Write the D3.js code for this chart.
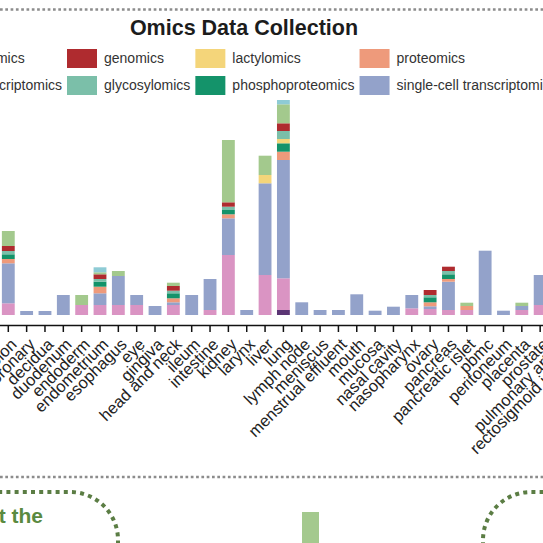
<!DOCTYPE html>
<html>
<head>
<meta charset="utf-8">
<script src="https://cdn.jsdelivr.net/npm/d3@7"></script>
<style>
  html, body { margin: 0; padding: 0; background: #fff; }
  svg { display: block; font-family: "Liberation Sans", Arial, Helvetica, sans-serif; }
</style>
</head>
<body>
<svg id="chart" width="543" height="543"></svg>
<script>
// ---------------- data ----------------
const categories = ["colon","coronary","decidua","duodenum","endoderm","endometrium","esophagus","eye",
  "gingiva","head and neck","ileum","intestine","kidney","larynx","liver","lung","lymph node","meniscus",
  "menstrual effluent","mouth","mucosa","nasal cavity","nasopharynx","ovary","pancreas","pancreatic islet",
  "pbmc","peritoneum","placenta","prostate","pulmonary artery","rectosigmoid junction"];

// series values per category (stack order bottom -> top)
const ubiquitinomics   = [0,0,0,0,0,0,0,0,0,0,0,0,0,0,0,5,0,0,0,0,0,0,0,0,0,0,0,0,0,0,0,0];
const spatialTx        = [11.7,0,0,0,10,10,10,10,0,10,0,5,60,0,40,31.7,0,0,0,0,0,0,6.7,6,5,5,0,0,5,10,0,0];
const singleCellTx     = [40,4,4,20,0,11.7,29,10,9,2.7,20,31,36.7,5,91.7,118.3,12.7,5,5,20.7,4.3,8.3,13.3,2.7,28.3,0,64.3,4.3,4,30,10,5];
const proteomics       = [4.3,0,0,0,0,6.6,0,0,0,4,0,0,4,0,0,8.3,0,0,0,0,0,0,0,4,2.7,4,0,0,0,0,0,0];
const phosphoproteomics= [4.7,0,0,0,0,5,0,0,0,5,0,0,4.3,0,0,8.4,0,0,0,0,0,0,0,5,4.7,0,0,0,0,0,0,0];
const lactylomics      = [0,0,0,0,0,0,0,0,0,0,0,0,0,0,8.3,4.3,0,0,0,0,0,0,0,0,0,0,0,0,0,0,0,0];
const glycosylomics    = [3.3,0,0,0,0,2.7,0,0,0,2.6,0,0,3.3,0,0,8,0,0,0,0,0,0,0,2.3,3.3,0,0,0,0,0,0,0];
const genomics         = [5,0,0,0,0,4.7,0,0,0,4.7,0,0,4.4,0,0,7.7,0,0,0,0,0,0,0,5,4.3,0,0,0,0,0,0,0];
const bulkTx           = [15,0,0,0,10,2,5,0,0,3.3,0,0,62.3,0,19.3,19,0,0,0,0,0,0,0,0,0,3.3,0,0,3.3,0,0,0];
const metabolomics     = [0,0,0,0,0,5,0,0,0,0,0,0,0,0,0,4.3,0,0,0,0,0,0,0,0,0,0,0,0,0,0,0,0];

const seriesNames = ["ubiquitinomics","spatial transcriptomics","single-cell transcriptomics","proteomics",
  "phosphoproteomics","lactylomics","glycosylomics","genomics","bulk transcriptomics","metabolomics"];
const seriesValues = [ubiquitinomics, spatialTx, singleCellTx, proteomics, phosphoproteomics,
  lactylomics, glycosylomics, genomics, bulkTx, metabolomics];
const seriesColors = ["#5b3574","#da94c3","#93a2ca","#ee9a7b","#14936a","#f4d57a","#7bbfa9","#af2b2f","#a3c98d","#8ecbd5"];

// legend order (column-major, 2 rows)
const legendOrder = ["metabolomics","bulk transcriptomics","genomics","glycosylomics","lactylomics",
  "phosphoproteomics","proteomics","single-cell transcriptomics","spatial transcriptomics","ubiquitinomics"];

const titleText = "Omics Data Collection";

// partially visible element of the panel below
const lowerPanelCats = ["a"];
const lowerPanelValues = [88];

// ---------------- drawing ----------------
const svg = d3.select("#chart");
const W = 543, H = 543;

// dotted separators
const greyDots = [9.5, 477];
svg.selectAll("line.sep").data(greyDots).join("line")
  .attr("class","sep")
  .attr("x1",0).attr("x2",W).attr("y1",d=>d).attr("y2",d=>d)
  .attr("stroke","#8c8c8c").attr("stroke-width",2.6).attr("stroke-dasharray","2.7 2.6");

// title
svg.append("text").attr("x",244).attr("y",35).attr("text-anchor","middle")
  .attr("font-size",21.5).attr("font-weight","bold").attr("fill","#1c1c1c").text(titleText);

// legend
const colorOf = Object.fromEntries(seriesNames.map((n,i)=>[n, seriesColors[i]]));
const legendFont = 14;
const measure = svg.append("text").attr("font-size",legendFont).attr("visibility","hidden");
const widthOf = t => { measure.text(t); return measure.node().getComputedTextLength(); };
const nCols = Math.ceil(legendOrder.length/2);
const colW = d3.range(nCols).map(c => d3.max(legendOrder.slice(c*2, c*2+2), widthOf));
measure.remove();
const swW = 30, swH = 19, swGap = 7, colGap = 5;
const colX = new Array(nCols);
colX[1] = 67;
colX[0] = colX[1] - (swW + swGap + colW[0] + colGap);
for (let c = 2; c < nCols; c++) colX[c] = colX[c-1] + swW + swGap + colW[c-1] + colGap;
const rowY = [49, 76];
const lg = svg.append("g");
legendOrder.forEach((name,i) => {
  const c = Math.floor(i/2), r = i%2;
  lg.append("rect").attr("x",colX[c]).attr("y",rowY[r]).attr("width",swW).attr("height",swH)
    .attr("fill",colorOf[name]);
  lg.append("text").attr("x",colX[c]+swW+swGap).attr("y",rowY[r]+swH/2).attr("dy","0.35em")
    .attr("font-size",legendFont).attr("fill","#333").text(name);
});

// scales
const step = 18.34, firstCenter = 8.3;
const x = d3.scaleBand().domain(categories)
  .range([firstCenter - step/2, firstCenter - step/2 + step*categories.length])
  .paddingInner(0.3).paddingOuter(0.15);
const y = d3.scaleLinear().domain([0, 215]).range([315, 100]);

const table = categories.map((c,i) => {
  const o = {category:c};
  seriesNames.forEach((n,k) => o[n] = seriesValues[k][i]);
  return o;
});
const stacked = d3.stack().keys(seriesNames)(table);

svg.append("g").selectAll("g").data(stacked).join("g")
  .attr("fill", (d,i) => seriesColors[i])
  .selectAll("rect").data(d => d.filter(p => p[1] - p[0] > 0)).join("rect")
  .attr("x", d => x(d.data.category))
  .attr("width", x.bandwidth())
  .attr("y", d => y(d[1]))
  .attr("height", d => y(d[0]) - y(d[1]));

// x axis
const axis = svg.append("g").attr("transform","translate(0,325)")
  .call(d3.axisBottom(x).tickSize(7).tickSizeOuter(0));
axis.select(".domain").attr("stroke","#111").attr("stroke-width",1.3);
axis.selectAll(".tick line").attr("stroke","#111").attr("stroke-width",1.5);
axis.selectAll(".tick text")
  .attr("x",0).attr("y",0).attr("dy","0.72em")
  .attr("text-anchor","end")
  .attr("transform","translate(1,12) rotate(-45)")
  .attr("font-size",16.5).attr("fill","#222")
  .attr("font-family","'Liberation Sans', Arial, sans-serif");

// panel below (partially visible)
const green = "#5b7d44";
svg.append("path").attr("d","M -10 492 H 70 A 48 48 0 0 1 118 540 V 580")
  .attr("fill","none").attr("stroke",green).attr("stroke-width",4).attr("stroke-dasharray","4 4.2");
svg.append("path").attr("d","M 560 492 H 531 A 48 48 0 0 0 483 540 V 580")
  .attr("fill","none").attr("stroke",green).attr("stroke-width",4).attr("stroke-dasharray","4 4.2");
svg.append("text").attr("x",43).attr("y",523).attr("text-anchor","end")
  .attr("font-size",21).attr("font-weight","bold").attr("fill","#5a8a40").text("What about the");

const xl = d3.scaleBand().domain(lowerPanelCats).range([302,319]);
const yl = d3.scaleLinear().domain([0,100]).range([600,500]);
svg.append("g").selectAll("rect").data(lowerPanelValues).join("rect")
  .attr("x",(d,i)=>xl(lowerPanelCats[i])).attr("width",xl.bandwidth())
  .attr("y",d=>yl(d)).attr("height",d=>yl(0)-yl(d)).attr("fill","#a4c98e");
</script>
</body>
</html>
